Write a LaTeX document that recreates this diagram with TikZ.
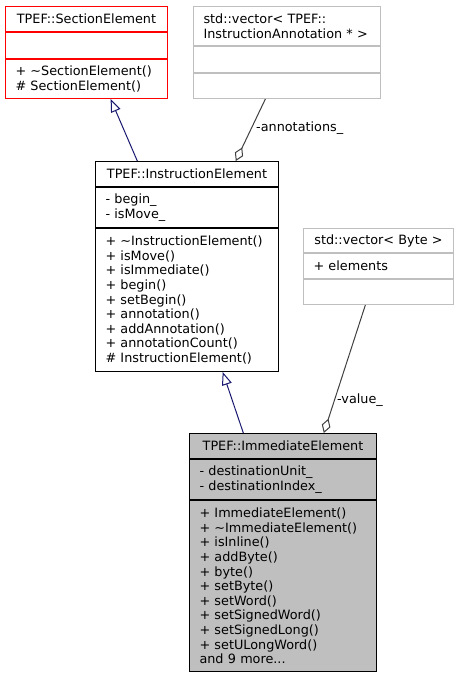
\documentclass[tikz,border=0pt]{standalone}
\usepackage{fontspec}
\setmainfont{DejaVu Sans}
\usetikzlibrary{arrows.meta,calc}
\definecolor{grey75}{HTML}{BFBFBF}
\definecolor{grey25}{HTML}{404040}
\definecolor{navy}{HTML}{191970}

\begin{document}
\begin{tikzpicture}[x=1pt,y=-1pt]
\tikzstyle{member}=[rectangle,draw,line width=1pt,inner xsep=10pt,inner ysep=0pt,
align=left,anchor=north west,font=\fontsize{12.8}{14.6}\selectfont]
\tikzstyle{head}=[member,align=center]
\tikzstyle{base}=[draw=red]
\tikzstyle{hidden}=[draw=grey75]
\tikzstyle{current}=[fill=grey75]
\tikzstyle{role}=[anchor=west,inner sep=0pt,font=\fontsize{12.8}{14.6}\selectfont]

\useasboundingbox (0,0) rectangle (459,676);

\node[head,base,text width=142pt,minimum height=25pt] (sec-title) at (5,6) {TPEF::SectionElement};
\node[member,base,text width=142pt,minimum height=26pt] (sec-attr) at (sec-title.south west) {};
\node[member,base,text width=142pt,minimum height=39pt] (sec-ops) at (sec-attr.south west)
  {+ \textasciitilde SectionElement()\\\# SectionElement()};

\node[member,hidden,text width=167pt,minimum height=39pt] (annvec-title) at (193,6)
  {std::vector< TPEF::\\InstructionAnnotation * >};
\node[member,hidden,text width=167pt,minimum height=26pt] (annvec-attr) at (annvec-title.south west) {};
\node[member,hidden,text width=167pt,minimum height=25pt] (annvec-ops) at (annvec-attr.south west) {};

\node[head,text width=163pt,minimum height=25pt] (instr-title) at (95,161) {TPEF::InstructionElement};
\node[member,text width=163pt,minimum height=40pt] (instr-attr) at (instr-title.south west)
  {- begin\_\\- isMove\_};
\node[member,text width=163pt,minimum height=143pt] (instr-ops) at (instr-attr.south west)
  {+ \textasciitilde InstructionElement()\\+ isMove()\\+ isImmediate()\\+ begin()\\+ setBegin()\\
   + annotation()\\+ addAnnotation()\\+ annotationCount()\\\# InstructionElement()};

\node[head,hidden,text width=130pt,minimum height=24pt] (bytevec-title) at (303,228) {std::vector< Byte >};
\node[member,hidden,text width=130pt,minimum height=25pt] (bytevec-attr) at (bytevec-title.south west) {+ elements};
\node[member,hidden,text width=130pt,minimum height=25pt] (bytevec-ops) at (bytevec-attr.south west) {};

\node[head,current,text width=167pt,minimum height=25pt] (imm-title) at (189,433) {TPEF::ImmediateElement};
\node[member,current,text width=167pt,minimum height=40pt] (imm-attr) at (imm-title.south west)
  {- destinationUnit\_\\- destinationIndex\_};
\node[member,current,text width=167pt,minimum height=171pt] (imm-ops) at (imm-attr.south west)
  {+ ImmediateElement()\\+ \textasciitilde ImmediateElement()\\+ isInline()\\+ addByte()\\+ byte()\\
   + setByte()\\+ setWord()\\+ setSignedWord()\\+ setSignedLong()\\+ setULongWord()\\and 9 more...};

\tikzstyle{inherit}=[draw=navy,line width=1pt,-{Triangle[open,length=13pt,width=10pt]}]
\tikzstyle{aggr}=[draw=grey25,line width=1pt,-{Diamond[open,length=15pt,width=9pt]}]
\draw[inherit] ($(instr-title.north west)!0.23!(instr-title.north east)$)
  -- ($(sec-ops.south west)!0.648!(sec-ops.south east)$);
\draw[aggr] ($(annvec-ops.south west)!0.385!(annvec-ops.south east)$)
  -- ($(instr-title.north west)!0.765!(instr-title.north east)$);
\draw[inherit] ($(imm-title.north west)!0.289!(imm-title.north east)$)
  -- ($(instr-ops.south west)!0.694!(instr-ops.south east)$);
\draw[aggr] ($(bytevec-ops.south west)!0.413!(bytevec-ops.south east)$)
  -- ($(imm-title.north west)!0.717!(imm-title.north east)$);

\node[role] (annot-label) at (256,128) {-annotations\_};
\node[role] (value-label) at (337,400) {-value\_};

\end{tikzpicture}
\end{document}
